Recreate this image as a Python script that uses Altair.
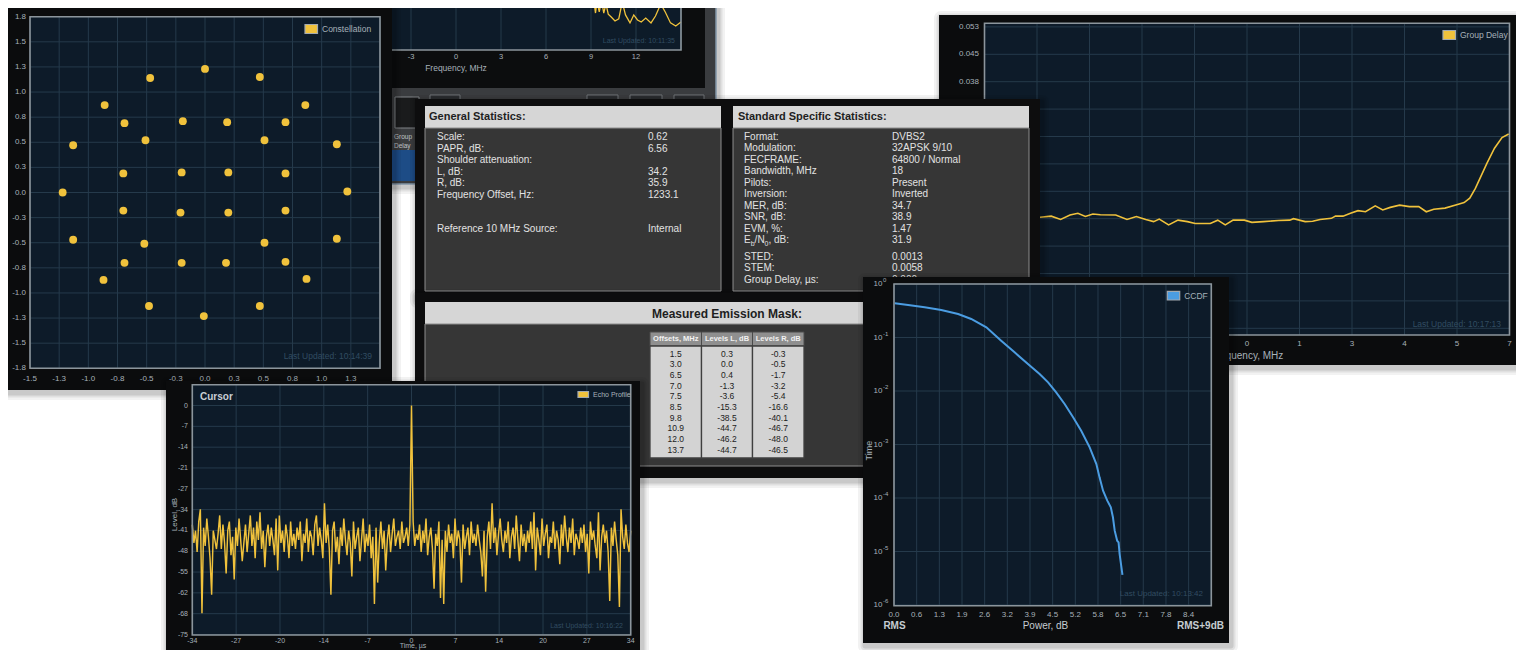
import altair as alt
import pandas as pd

FONT = "Liberation Sans"
OFF = 8
W, H = 1508, 642

NAVY = "#0d1b29"
GRID = "#253a4b"
BORDER = "#8c959c"
PANEL = "#0b0c0d"
YEL = "#f0c23c"
BLUE = "#4b9de2"
LBL = "#a7b1b9"
DIM = "#314c61"
STAT_BG = "#363636"
HEAD_BG = "#d6d6d6"

# ---------------- data ----------------
# Constellation (I / Q)
const_i = [0.00, -0.47, 0.47, -0.86, 0.86, -0.69, -0.19, 0.19, 0.69, -1.13, -0.51, 0.51, 1.13,
           -0.70, -0.20, 0.20, 0.69, -1.22, 1.22, -0.70, -0.21, 0.20, 0.69, -1.13, -0.52, 0.51,
           1.13, -0.69, -0.20, 0.18, 0.69, -0.87, 0.87, -0.48, 0.47, -0.01]
const_q = [1.23, 1.14, 1.15, 0.87, 0.87, 0.69, 0.71, 0.70, 0.70, 0.47, 0.52, 0.52, 0.48,
           0.19, 0.20, 0.20, 0.19, 0.00, 0.01, -0.18, -0.20, -0.20, -0.18, -0.47, -0.51, -0.50,
           -0.46, -0.70, -0.70, -0.70, -0.69, -0.87, -0.86, -1.13, -1.13, -1.23]
const_x_ticks = [-1.5, -1.25, -1.0, -0.75, -0.5, -0.25, 0.0, 0.25, 0.5, 0.75, 1.0, 1.25, 1.5]
const_x_labels = ["-1.5", "-1.3", "-1.0", "-0.8", "-0.5", "-0.3", "0.0", "0.3", "0.5", "0.8", "1.0", "1.3", ""]
const_y_ticks = [1.75, 1.5, 1.25, 1.0, 0.75, 0.5, 0.25, 0.0, -0.25, -0.5, -0.75, -1.0, -1.25, -1.5, -1.75]
const_y_labels = ["1.8", "1.5", "1.3", "1.0", "0.8", "0.5", "0.3", "0.0", "-0.3", "-0.5", "-0.8", "-1.0", "-1.3", "-1.5", "-1.8"]

# Spectrum (background window, mostly hidden)
spec_freq = [8.8, 9.2, 9.3, 9.4, 9.55, 9.7, 9.85, 10.0, 10.15, 10.35, 10.6, 10.85, 11.0, 11.1,
             11.3, 11.6, 11.85, 12.1, 12.35, 12.65, 13.0, 13.3, 13.65, 13.95, 14.3, 14.65, 15.0]
spec_level = [-25.0, -37.1, -42.4, -36.7, -41.9, -36.2, -42.4, -38.1, -42.9, -44.3, -46.2, -45.2,
              -40.0, -37.6, -43.3, -47.1, -43.3, -45.7, -46.7, -44.8, -47.1, -43.8, -38.1, -41.9,
              -47.1, -48.6, -46.7]
spec_ticks = [-15, -12, -9, -6, -3, 0, 3, 6, 9, 12, 15]
spec_labels = ["", "-12", "-9", "-6", "-3", "0", "3", "6", "9", "12", ""]

# Group delay
gd_freq = [-5.52, -5.22, -4.97, -4.72, -4.51, -4.31, -4.11, -3.91, -3.50, -3.20, -2.95, -2.70,
           -2.49, -2.34, -2.09, -1.84, -1.59, -1.38, -0.98, -0.78, -0.58, -0.37, -0.07, 0.13,
           0.44, 0.84, 1.14, 1.24, 1.55, 1.75, 1.95, 2.25, 2.36, 2.56, 2.76, 2.96, 3.16, 3.42,
           3.62, 3.82, 4.07, 4.33, 4.58, 4.78, 4.98, 5.28, 5.59, 5.79, 5.94, 6.09, 6.40, 6.60,
           6.80, 6.98]
gd_delay = [0.0004, 0.0007, -0.0002, 0.0010, 0.0015, 0.0006, 0.0013, 0.0011, 0.0010, -0.0002,
            0.0006, -0.0002, -0.0008, -0.0001, -0.0017, -0.0004, -0.0008, -0.0013, -0.0013,
            -0.0004, -0.0017, -0.0004, -0.0004, -0.0010, -0.0008, -0.0005, -0.0004, 0.0000,
            -0.0008, -0.0007, -0.0002, 0.0001, 0.0007, 0.0007, 0.0015, 0.0022, 0.0019, 0.0035,
            0.0024, 0.0031, 0.0037, 0.0033, 0.0033, 0.0019, 0.0026, 0.0029, 0.0038, 0.0044,
            0.0056, 0.0083, 0.0152, 0.0193, 0.0222, 0.0232]
gd_x_ticks = [-7, -5.6, -4.2, -2.8, -1.4, 0, 1.4, 2.8, 4.2, 5.6, 7]
gd_x_labels = ["-7", "-6", "-4", "-3", "-1", "0", "1", "3", "4", "5", "7"]
gd_y_ticks = [0.0525, 0.045, 0.0375, 0.03, 0.0225, 0.015, 0.0075, 0.0, -0.0075, -0.015, -0.0225, -0.03]
gd_y_labels = ["0.053", "0.045", "0.038", "0.030", "0.023", "0.015", "0.008", "0.000",
               "-0.008", "-0.015", "-0.023", "-0.030"]

# Echo profile (level, dB) sampled every 0.25 us from -34 us
echo_level = [
    -39, -45, -41, -48, -38, -34, -68, -40, -46, -37, -43, -50, -62, -41, -44, -47,
    -42, -36, -47, -39, -45, -55, -41, -38, -49, -43, -57, -40, -46, -37, -44, -51,
    -45, -39, -48, -42, -36, -46, -40, -50, -38, -44, -35, -47, -41, -53, -43, -39,
    -46, -40, -44, -49, -37, -54, -36, -45, -41, -48, -39, -43, -50, -38, -46, -42,
    -47, -40, -44, -38, -51, -42, -45, -37, -48, -41, -43, -49, -39, -36, -46, -40,
    -44, -50, -32, -45, -39, -47, -62, -41, -38, -48, -43, -52, -40, -46, -37, -44,
    -49, -41, -45, -56, -38, -47, -43, -40, -51, -44, -37, -48, -42, -46, -39, -50,
    -43, -65, -40, -58, -45, -38, -47, -41, -54, -44, -39, -48, -42, -37, -46, -43,
    -41, -47, -38, -45, -43, -40, -46, -39, 0,
    -38, -46, -42, -44, -39, -48, -41,
    -45, -37, -49, -43, -40, -47, -60, -42, -46, -38, -63, -44, -65, -41, -48, -39,
    -45, -42, -50, -37, -46, -41, -44, -58, -39, -47, -43, -40, -49, -38, -45, -42,
    -46, -39, -44, -48, -56, -41, -61, -43, -38, -47, -32, -45, -40, -49, -42, -37,
    -44, -48, -41, -45, -38, -50, -43, -40, -47, -36, -44, -51, -39, -46, -42, -48,
    -41, -45, -38, -47, -35, -54, -40, -44, -49, -37, -46, -42, -39, -50, -43, -45,
    -38, -47, -41, -44, -52, -39, -46, -36, -43, -48, -40, -45, -37, -49, -42, -44,
    -47, -40, -45, -39, -48, -42, -55, -38, -44, -41, -46, -50, -35, -54, -43, -39,
    -45, -41, -48, -64, -40, -46, -38, -44, -49, -66, -34, -43, -47, -39, -45, -48, -41,
]
echo_time = [round(-34 + 0.25 * k, 2) for k in range(len(echo_level))]
echo_x_ticks = [-34, -27.2, -20.4, -13.6, -6.8, 0, 6.8, 13.6, 20.4, 27.2, 34]
echo_x_labels = ["-34", "-27", "-20", "-14", "-7", "0", "7", "14", "20", "27", "34"]
echo_y_ticks = [0, -6.82, -13.64, -20.45, -27.27, -34.09, -40.91, -47.73, -54.55, -61.36, -68.18, -75]
echo_y_labels = ["0", "-7", "-14", "-21", "-27", "-34", "-41", "-48", "-55", "-62", "-68", "-75"]

# CCDF
ccdf_power = [0.02, 0.40, 0.87, 1.34, 1.82, 2.19, 2.62, 3.04, 3.42, 3.80, 4.13, 4.37, 4.60, 4.84,
              5.08, 5.31, 5.55, 5.74, 5.83, 5.93, 6.05, 6.15, 6.21, 6.26, 6.33, 6.37, 6.40, 6.48]
ccdf_prob = [0.435, 0.405, 0.366, 0.327, 0.275, 0.222, 0.155, 0.0873, 0.0528, 0.0320, 0.0208,
             0.0145, 0.00944, 0.00571, 0.00322, 0.00181, 0.000885, 0.000432, 0.000243, 0.000137,
             0.0000891, 0.0000670, 0.0000436, 0.0000245, 0.0000159, 0.0000148, 0.00000897, 0.00000364]
ccdf_x_ticks = [0.0, 0.643, 1.286, 1.929, 2.571, 3.214, 3.857, 4.5, 5.143, 5.786, 6.429, 7.071, 7.714, 8.357, 9.0]
ccdf_x_labels = ["0.0", "0.6", "1.3", "1.9", "2.6", "3.2", "3.9", "4.5", "5.2", "5.8", "6.5", "7.1", "7.8", "8.4", ""]
ccdf_y_ticks = [1, 0.1, 0.01, 0.001, 0.0001, 0.00001, 0.000001]
ccdf_y_base = ["10"] * 7
ccdf_y_exp = ["0", "-1", "-2", "-3", "-4", "-5", "-6"]

# Statistics tables
gen_labels = ["Scale:", "PAPR, dB:", "Shoulder attenuation:", "L, dB:", "R, dB:",
              "Frequency Offset, Hz:", "", "", "Reference 10 MHz Source:"]
gen_values = ["0.62", "6.56", "", "34.2", "35.9", "1233.1", "", "", "Internal"]
std_labels_a = ["Format:", "Modulation:", "FECFRAME:", "Bandwidth, MHz", "Pilots:", "Inversion:",
                "MER, dB:", "SNR, dB:", "EVM, %:", ""]
std_values_a = ["DVBS2", "32APSK 9/10", "64800 / Normal", "18", "Present", "Inverted",
                "34.7", "38.9", "1.47", "31.9"]
std_labels_b = ["STED:", "STEM:", "Group Delay, \u00b5s:"]
std_values_b = ["0.0013", "0.0058", "0.000"]

mask_offsets = ["1.5", "3.0", "6.5", "7.0", "7.5", "8.5", "9.8", "10.9", "12.0", "13.7"]
mask_left = ["0.3", "0.0", "0.4", "-1.3", "-3.6", "-15.3", "-38.5", "-44.7", "-46.2", "-44.7"]
mask_right = ["-0.3", "-0.5", "-1.7", "-3.2", "-5.4", "-16.6", "-40.1", "-46.7", "-48.0", "-46.5"]
mask_headers = ["Offsets, MHz", "Levels L, dB", "Levels R, dB"]

# ---------------- helpers ----------------
ONE = alt.Data(values=[{"k": 0}])
L = []


def S(dom, r0, r1, log=False):
    if log:
        return alt.Scale(type="log", domain=dom, range=[r0 - OFF, r1 - OFF])
    return alt.Scale(domain=dom, range=[r0 - OFF, r1 - OFF], nice=False, zero=False)


def rect(x0, y0, x1, y1, fill, op=1.0, cr=0, stroke=None, sw=1.0):
    kw = dict(fill=fill, opacity=op)
    if cr:
        kw["cornerRadius"] = cr
    if stroke:
        kw.update(stroke=stroke, strokeWidth=sw)
    L.append(alt.Chart(ONE).mark_rect(**kw).encode(
        x=alt.value(x0 - OFF), x2=alt.value(x1 - OFF),
        y=alt.value(y0 - OFF), y2=alt.value(y1 - OFF)))


def frame(x0, y0, x1, y1, color=BORDER, sw=1.6):
    L.append(alt.Chart(ONE).mark_rect(fill="#000000", fillOpacity=0, stroke=color, strokeWidth=sw).encode(
        x=alt.value(x0 - OFF), x2=alt.value(x1 - OFF),
        y=alt.value(y0 - OFF), y2=alt.value(y1 - OFF)))


def text(x, y, s, size=10, color="#e4e4e4", align="left", weight="normal", angle=0):
    L.append(alt.Chart(ONE).mark_text(
        text=s, fontSize=size, color=color, align=align, baseline="middle",
        fontWeight=weight, angle=angle, font=FONT).encode(
        x=alt.value(x - OFF), y=alt.value(y - OFF)))


def shadow(x0, y0, x1, y1):
    for d, op in [(7, 0.05), (4.5, 0.07), (2.5, 0.10)]:
        rect(x0 - d + 2, y0 - d + 3, x1 + d + 2, y1 + d + 3, "#000000", op=op, cr=d)


def vgrid(vals, xs, y0, y1, color=GRID):
    df = pd.DataFrame({"v": vals})
    L.append(alt.Chart(df).mark_rule(color=color, strokeWidth=1).encode(
        x=alt.X("v:Q", scale=xs, axis=None),
        y=alt.value(y0 - OFF), y2=alt.value(y1 - OFF)))


def hgrid(vals, ys, x0, x1, color=GRID):
    df = pd.DataFrame({"v": vals})
    L.append(alt.Chart(df).mark_rule(color=color, strokeWidth=1).encode(
        y=alt.Y("v:Q", scale=ys, axis=None),
        x=alt.value(x0 - OFF), x2=alt.value(x1 - OFF)))


def xlabels(vals, labels, xs, y, size=8, color=LBL, align="center", weight="normal"):
    df = pd.DataFrame({"v": vals, "t": labels})
    L.append(alt.Chart(df).mark_text(fontSize=size, color=color, align=align, baseline="middle",
                                     font=FONT, fontWeight=weight).encode(
        x=alt.X("v:Q", scale=xs, axis=None), y=alt.value(y - OFF), text="t:N"))


def ylabels(vals, labels, ys, x, size=8, color=LBL, align="right", dy=0, weight="normal"):
    df = pd.DataFrame({"v": vals, "t": labels})
    L.append(alt.Chart(df).mark_text(fontSize=size, color=color, align=align, baseline="middle",
                                     font=FONT, dy=dy, fontWeight=weight).encode(
        y=alt.Y("v:Q", scale=ys, axis=None), x=alt.value(x - OFF), text="t:N"))


def legend_box(x0, y0, x1, y1, color, label, size=8.5):
    rect(x0, y0, x1, y1, color, stroke="#a3aab0", sw=1.2)
    text(x1 + 4.5, (y0 + y1) / 2, label, size, LBL)


# ---------------- top-centre spectrum window (background) ----------------
shadow(186, -10, 716, 184)
rect(186, -10, 716, 184, "#3a3c3f", stroke="#8195a8", sw=1.5)
rect(188, -10, 705, 88, "#0c0d0e")
spec_x = S([-15, 15], 231, 681)
spec_y = S([-60, -40], 50, 8)
rect(231, -10, 681, 50, NAVY)
vgrid(spec_ticks, spec_x, -10, 50)
L.append(alt.Chart(pd.DataFrame({"f": spec_freq, "v": spec_level})).mark_line(
    color=YEL, strokeWidth=1.3).encode(
    x=alt.X("f:Q", scale=spec_x, axis=None), y=alt.Y("v:Q", scale=spec_y, axis=None)))
frame(231, -10, 681, 50)
xlabels(spec_ticks, spec_labels, spec_x, 57, 7.5)
text(456, 67.5, "Frequency, MHz", 8.5, LBL, "center")
text(675, 41, "Last Updated: 10:11:35", 7, DIM, "right")
for a, b in [(430, 460), (587, 618), (630, 662), (674, 704)]:
    rect(a, 95, b, 106, "#2b2d30", stroke="#6f7377", sw=1)
rect(395, 97, 419, 128, "#1a1b1c", stroke="#808488", sw=1)
text(394, 137, "Group", 6.5, "#c0c4c8")
text(394, 146, "Delay", 6.5, "#c0c4c8")
rect(388, 150, 424, 181, "#1d4c86")

# ---------------- group delay window ----------------
shadow(939, 15, 1517, 365)
rect(939, 15, 1517, 365, PANEL)
gd_x = S([-7, 7], 984.5, 1509.5)
gd_y = S([-0.03, 0.0525], 328.3, 26.9)
rect(984.5, 23.3, 1509.5, 335, NAVY)
vgrid(gd_x_ticks, gd_x, 23.3, 335)
hgrid(gd_y_ticks, gd_y, 984.5, 1509.5)
L.append(alt.Chart(pd.DataFrame({"f": gd_freq, "v": gd_delay})).mark_line(
    color=YEL, strokeWidth=1.6).encode(
    x=alt.X("f:Q", scale=gd_x, axis=None), y=alt.Y("v:Q", scale=gd_y, axis=None)))
frame(984.5, 23.3, 1509.5, 335)
ylabels(gd_y_ticks, gd_y_labels, gd_y, 979, 8)
xlabels(gd_x_ticks, gd_x_labels, gd_x, 344.3, 8)
text(1247, 356, "Frequency, MHz", 10, LBL, "center")
legend_box(1443, 30.5, 1455.5, 39.5, YEL, "Group Delay", 8.5)
text(1501, 323.5, "Last Updated: 10:17:13", 8.5, DIM, "right")

# ---------------- constellation window ----------------
shadow(5, 7, 392, 390)
rect(5, 7, 392, 390, PANEL)
c_x = S([-1.5, 1.5], 30, 380)
c_y = S([-1.75, 1.75], 368.3, 16.7)
rect(30, 16.7, 380, 368.3, NAVY)
vgrid(const_x_ticks, c_x, 16.7, 368.3)
hgrid(const_y_ticks, c_y, 30, 380)
L.append(alt.Chart(pd.DataFrame({"i": const_i, "q": const_q})).mark_circle(
    size=62, color=YEL, opacity=1).encode(
    x=alt.X("i:Q", scale=c_x, axis=None), y=alt.Y("q:Q", scale=c_y, axis=None)))
frame(30, 16.7, 380, 368.3)
ylabels(const_y_ticks, const_y_labels, c_y, 26, 8)
xlabels(const_x_ticks, const_x_labels, c_x, 378.5, 8)
legend_box(305, 24.5, 317.5, 33.5, YEL, "Constellation", 8.5)
text(372, 356, "Last Updated: 10:14:39", 8.5, DIM, "right")

# ---------------- statistics windows ----------------
shadow(415, 99, 1040, 298)
rect(415, 99, 1040, 298, "#0d0d0e")
rect(425, 106, 721, 128, HEAD_BG)
rect(425, 128, 721, 291, STAT_BG, stroke="#8d8d8d", sw=1)
rect(733, 106, 1029, 128, HEAD_BG)
rect(733, 128, 1029, 291, STAT_BG, stroke="#8d8d8d", sw=1)
text(429, 117, "General Statistics:", 11, "#1e1e1e", weight="bold")
text(738, 117, "Standard Specific Statistics:", 11, "#1e1e1e", weight="bold")

gen_y = S([0, 8], 137.3, 229.2)
ylabels(list(range(len(gen_labels))), gen_labels, gen_y, 437, 10, "#e2e2e2", "left")
ylabels(list(range(len(gen_values))), gen_values, gen_y, 648, 10, "#e2e2e2", "left")

std_ya = S([0, 9], 136.7, 240)
ylabels(list(range(len(std_labels_a))), std_labels_a, std_ya, 744, 10, "#e2e2e2", "left")
ylabels(list(range(len(std_values_a))), std_values_a, std_ya, 892, 10, "#e2e2e2", "left")
std_yb = S([0, 2], 256.7, 280)
ylabels(list(range(len(std_labels_b))), std_labels_b, std_yb, 744, 10, "#e2e2e2", "left")
ylabels(list(range(len(std_values_b))), std_values_b, std_yb, 892, 10, "#e2e2e2", "left")
# E_b/N_0 label with subscripts
text(744, 240, "E", 10, "#e2e2e2")
text(750.7, 243.5, "b", 7, "#e2e2e2")
text(754.6, 240, "/N", 10, "#e2e2e2")
text(764.6, 243.5, "0", 7, "#e2e2e2")
text(768.5, 240, ", dB:", 10, "#e2e2e2")

# ---------------- emission mask window ----------------
shadow(415, 293, 870, 478)
rect(415, 293, 870, 478, "#0d0d0e")
rect(425, 302, 870, 324, HEAD_BG)
rect(425, 324, 870, 466, STAT_BG, stroke="#8d8d8d", sw=1)
text(727, 313.7, "Measured Emission Mask:", 12, "#1e1e1e", "center", "bold")
cols = [(650, 701.5), (701.5, 752.5), (752.5, 804)]
for (a, b) in cols:
    rect(a, 332, b, 346, "#8f8f8f", stroke="#4a4a4a", sw=1)
    rect(a, 346, b, 458, "#d3d3d3", stroke="#3f3f3f", sw=1.3)
for (a, b), h in zip(cols, mask_headers):
    text((a + b) / 2, 339, h, 7.5, "#f2f2f2", "center", "bold")
mask_y = S([0, 9], 353.7, 449.7)
for (a, b), col in zip(cols, [mask_offsets, mask_left, mask_right]):
    ylabels(list(range(len(col))), col, mask_y, (a + b) / 2, 8.5, "#1c1c1c", "center")

# ---------------- echo profile window ----------------
shadow(166, 381, 640, 662)
rect(166, 381, 640, 662, PANEL)
e_x = S([-34, 34], 192.3, 630.7)
e_y = S([-75, 6.82], 634.5, 384.7)
rect(192.3, 384.7, 630.7, 635, NAVY)
vgrid(echo_x_ticks, e_x, 384.7, 635)
hgrid(echo_y_ticks, e_y, 192.3, 630.7)
L.append(alt.Chart(pd.DataFrame({"t": echo_time, "v": echo_level})).mark_line(
    color=YEL, strokeWidth=1.45).encode(
    x=alt.X("t:Q", scale=e_x, axis=None), y=alt.Y("v:Q", scale=e_y, axis=None)))
frame(192.3, 384.7, 630.7, 635)
ylabels(echo_y_ticks, echo_y_labels, e_y, 188, 7)
xlabels(echo_x_ticks, echo_x_labels, e_x, 640.5, 7)
text(175, 514.5, "Level, dB", 8, LBL, "center", angle=270)
text(413, 646.3, "Time, \u00b5s", 7, LBL, "center")
text(200, 397, "Cursor", 10, "#c8cfd5", weight="bold")
legend_box(578, 391.5, 588.5, 397.5, YEL, "Echo Profile", 7)
text(623, 626, "Last Updated: 10:16:22", 7, DIM, "right")

# ---------------- CCDF window ----------------
shadow(863, 277, 1229, 643)
rect(863, 277, 1229, 643, PANEL)
cc_x = S([0, 9], 894, 1211.3)
cc_y = S([0.000001, 1], 605, 284, log=True)
rect(894, 284, 1211.3, 605.7, NAVY)
vgrid(ccdf_x_ticks, cc_x, 284, 605.7)
hgrid(ccdf_y_ticks, cc_y, 894, 1211.3)
L.append(alt.Chart(pd.DataFrame({"p": ccdf_power, "c": ccdf_prob})).mark_line(
    color=BLUE, strokeWidth=2).encode(
    x=alt.X("p:Q", scale=cc_x, axis=None), y=alt.Y("c:Q", scale=cc_y, axis=None)))
frame(894, 284, 1211.3, 605.7)
ylabels(ccdf_y_ticks, ccdf_y_base, cc_y, 882.5, 8)
ylabels(ccdf_y_ticks, ccdf_y_exp, cc_y, 883, 6, align="left", dy=-4)
xlabels(ccdf_x_ticks, ccdf_x_labels, cc_x, 614.7, 8)
text(894.5, 625.7, "RMS", 10, "#c5ccd2", "center", "bold")
text(1045.5, 625.7, "Power, dB", 10, "#c5ccd2", "center")
text(1200.5, 625.7, "RMS+9dB", 10, "#c5ccd2", "center", "bold")
text(869, 450.7, "Time", 9, LBL, "center", angle=270)
legend_box(1167.3, 291.3, 1179.7, 300, BLUE, "CCDF", 8.5)
text(1203, 593.5, "Last Updated: 10:13:42", 8, DIM, "right")

chart = alt.layer(*L).resolve_scale(x="independent", y="independent").properties(
    width=W, height=H, autosize=alt.AutoSizeParams(type="none"), padding=0
).configure(background="#ffffff").configure_view(strokeWidth=0)

chart.save("out.html", embed_options={"renderer": "svg", "actions": False})
